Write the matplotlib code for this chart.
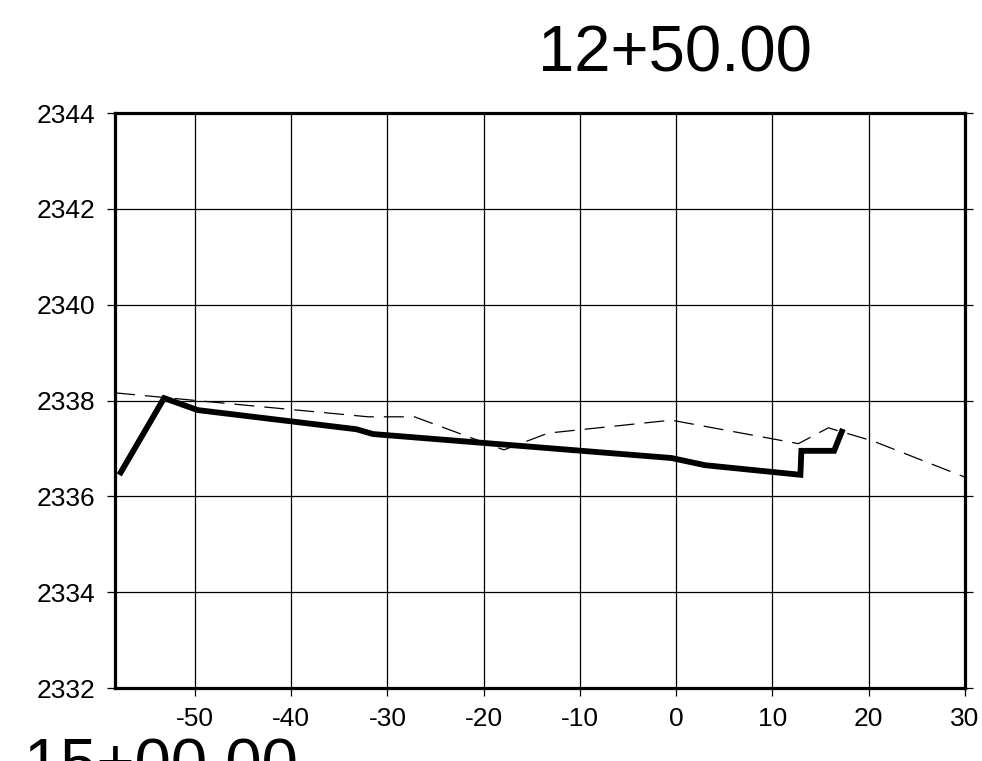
import numpy as np
import matplotlib
matplotlib.use("Agg")
import matplotlib.pyplot as plt

plt.rcParams['font.family'] = ['Liberation Sans', 'DejaVu Sans']
plt.rcParams['axes.unicode_minus'] = False

# proposed section (thick solid)
design_x = [-57.7, -53.2, -49.7, -33.2, -31.5, -0.5, 3.0, 12.9, 13.0, 16.4, 17.2]
design_y = [2336.5, 2338.05, 2337.8, 2337.4, 2337.3, 2336.8, 2336.65, 2336.45, 2336.95, 2336.95, 2337.35]

# existing ground (thin dashed)
ground_x = [-58.3, -32.0, -27.2, -17.9, -13.3, -0.5, 12.7, 15.8, 20.5, 30.0]
ground_y = [2338.16, 2337.66, 2337.66, 2336.97, 2337.32, 2337.59, 2337.1, 2337.43, 2337.15, 2336.4]

xticks = [-50, -40, -30, -20, -10, 0, 10, 20, 30]
yticks = [2332, 2334, 2336, 2338, 2340, 2342, 2344]

station = "12+50.00"
next_station = "15+00.00"

fig = plt.figure(figsize=(9.82, 7.61), dpi=100)
ax = fig.add_axes([0.1171, 0.0959, 0.8656, 0.7556])

ax.plot(ground_x, ground_y, color='black', lw=0.9, dashes=(16, 8))
ax.plot(design_x, design_y, color='black', lw=4.2, solid_joinstyle='miter')

ax.set_xlim(-58.3, 30)
ax.set_ylim(2332, 2344)
ax.set_xticks(xticks)
ax.set_yticks(yticks)
ax.grid(True, color='black', lw=0.9)
ax.set_axisbelow(True)

for s in ax.spines.values():
    s.set_linewidth(2.3)
    s.set_zorder(5)

ax.tick_params(axis='both', direction='out', length=6, width=0.9,
               labelsize=19, color='black')
ax.tick_params(axis='x', pad=8)
ax.tick_params(axis='y', pad=8, right=True)

fig.text(0.687, 0.9054, station, ha='center', va='baseline', fontsize=47)
fig.text(0.024, -0.0315, next_station, ha='left', va='baseline', fontsize=47)

fig.savefig("out.png", dpi=100)
